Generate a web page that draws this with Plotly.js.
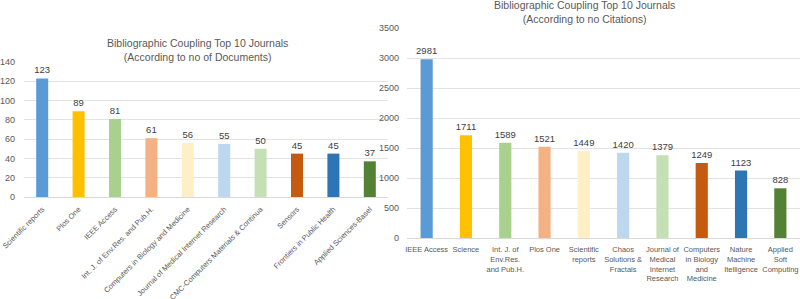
<!DOCTYPE html>
<html>
<head>
<meta charset="utf-8">
<script src="https://cdn.plot.ly/plotly-3.0.1.min.js"></script>
<style>html,body{margin:0;padding:0;background:#fff;}#chart{width:800px;height:299px;}</style>
</head>
<body>
<div id="chart"></div>
<script>
var docJournals = ["Scientific reports", "Plos One", "IEEE Access", "Int. J. of Env.Res. and Pub.H.", "Computers in Biology and Medicine", "Journal of Medical Internet Research", "CMC-Computers Materials & Continua", "Sensors", "Frontiers in Public Health", "Applied Sciences-Basel"];
var docCounts = [123, 89, 81, 61, 56, 55, 50, 45, 45, 37];

var citJournals = ["IEEE Access", "Science", "Int. J. of<br>Env.Res.<br>and Pub.H.", "Plos One", "Scientific<br>reports", "Chaos<br>Solutions &<br>Fractals", "Journal of<br>Medical<br>Internet<br>Research", "Computers<br>in Biology<br>and<br>Medicine", "Nature<br>Machine<br>Itelligence", "Applied<br>Soft<br>Computing"];
var citCounts = [2981, 1711, 1589, 1521, 1449, 1420, 1379, 1249, 1123, 828];

var docTicks = [0, 20, 40, 60, 80, 100, 120, 140];
var citTicks = [0, 500, 1000, 1500, 2000, 2500, 3000, 3500];

var barColors = ["#5B9BD5", "#FFC000", "#A9D18E", "#F4B183", "#FFEFC6", "#BDD7EE", "#C5E0B4", "#C55A11", "#2E75B6", "#548235"];

var FONT = "Liberation Sans, Arial, sans-serif";
var GRAY = "#595959";

var traces = [
  {type: "bar", x: docJournals, y: docCounts, xaxis: "x", yaxis: "y",
   marker: {color: barColors}, width: 0.33,
   text: docCounts.map(String), textposition: "outside", cliponaxis: false, constraintext: "none",
   textfont: {family: FONT, size: 9.5, color: "#404040"}, hoverinfo: "none"},
  {type: "bar", x: citJournals, y: citCounts, xaxis: "x2", yaxis: "y2",
   marker: {color: barColors}, width: 0.31,
   text: citCounts.map(String), textposition: "outside", cliponaxis: false, constraintext: "none",
   textfont: {family: FONT, size: 9.5, color: "#404040"}, hoverinfo: "none"}
];

var layout = {
  width: 800, height: 299,
  margin: {l: 0, r: 0, t: 0, b: 0},
  paper_bgcolor: "#fff", plot_bgcolor: "#fff",
  showlegend: false,
  font: {family: FONT, color: GRAY},
  xaxis: {domain: [24/800, 388/800], anchor: "y", tickangle: -45, showgrid: false,
          showline: true, linecolor: "#D9D9D9", linewidth: 1, ticks: "", ticklabelstandoff: 4,
          color: GRAY, tickfont: {family: FONT, size: 7.5, color: GRAY}, fixedrange: true},
  yaxis: {domain: [(299-197)/299, (299-62)/299], anchor: "x", range: [0, 140],
          tickvals: docTicks, ticktext: docTicks.map(String), ticklabelstandoff: 8,
          showgrid: true, gridcolor: "#E3E3E3", zeroline: false, ticks: "",
          color: GRAY, tickfont: {family: FONT, size: 9, color: GRAY}, fixedrange: true},
  xaxis2: {domain: [407/800, 1], anchor: "y2", tickangle: 0, showgrid: false,
           showline: true, linecolor: "#D9D9D9", linewidth: 1, ticks: "", ticklabelstandoff: 4,
           color: GRAY, tickfont: {family: FONT, size: 7.5, color: GRAY}, fixedrange: true},
  yaxis2: {domain: [(299-238)/299, (299-28)/299], anchor: "x2", range: [0, 3500],
           tickvals: citTicks, ticktext: citTicks.map(String), ticklabelstandoff: 7,
           showgrid: true, gridcolor: "#E3E3E3", zeroline: false, ticks: "",
           color: GRAY, tickfont: {family: FONT, size: 9, color: GRAY}, fixedrange: true},
  annotations: [
    {text: "Bibliographic Coupling Top 10 Journals<br>(According to no of Documents)",
     xref: "paper", yref: "paper", x: 197/800, y: (299-50)/299, xanchor: "center", yanchor: "middle",
     showarrow: false, font: {family: FONT, size: 10.5, color: GRAY}},
    {text: "Bibliographic Coupling Top 10 Journals<br>(According to no Citations)",
     xref: "paper", yref: "paper", x: 584/800, y: (299-12)/299, xanchor: "center", yanchor: "middle",
     showarrow: false, font: {family: FONT, size: 10.5, color: GRAY}}
  ]
};

Plotly.newPlot("chart", traces, layout, {displayModeBar: false, staticPlot: true});
</script>
</body>
</html>
